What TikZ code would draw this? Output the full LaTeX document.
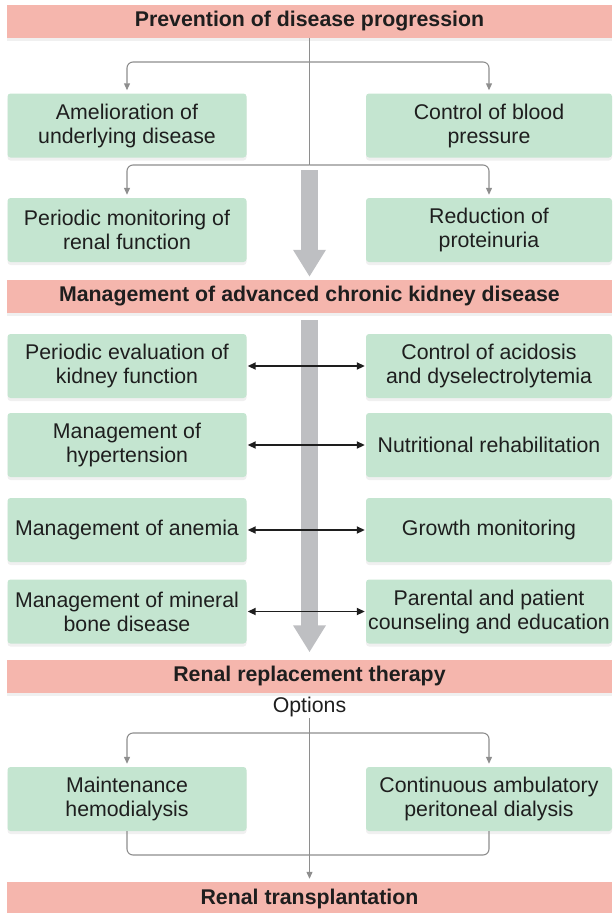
\documentclass[tikz,border=0pt]{standalone}
\usepackage{fontspec}
\setmainfont{Liberation Sans}
\usetikzlibrary{arrows.meta,positioning,shadows}
\definecolor{barpink}{HTML}{F5B6AD}
\definecolor{boxgreen}{HTML}{C4E5D0}
\definecolor{flowgrey}{HTML}{BEBFC2}
\definecolor{linegrey}{HTML}{8E8E8E}
\definecolor{ink}{HTML}{1E1E1E}

\begin{document}
\begin{tikzpicture}[x=1pt,y=-1pt,
    stage/.style={fill=barpink,minimum width=605pt,minimum height=33pt,inner sep=0pt,
      text=ink,font=\fontsize{21.3}{24}\selectfont\bfseries,
      drop shadow={opacity=0.12,shadow xshift=0pt,shadow yshift=-3pt}},
    item/.style={fill=boxgreen,rounded corners=3pt,minimum height=64pt,inner sep=0pt,
      align=center,text=ink,font=\fontsize{21.3}{24}\selectfont,
      drop shadow={opacity=0.12,shadow xshift=0pt,shadow yshift=-3pt}},
    lft/.style={item,minimum width=239pt},
    rgt/.style={item,minimum width=246pt},
    trunk/.style={draw=linegrey,line width=1.1pt,rounded corners=6pt},
    branch/.style={trunk,-{Triangle[length=7pt,width=6pt]},shorten >=3pt},
    both/.style={draw=ink,line width=1.9pt,{Triangle[length=8pt,width=7pt]}-{Triangle[length=8pt,width=7pt]},shorten <=1pt,shorten >=1pt},
    flow/.style={draw=flowgrey,line width=17pt,-{Triangle[length=27pt,width=31pt]}}]
  \useasboundingbox (0,0) rectangle (615,913);

  % stages
  \node[stage] (prev) at (309.5,21) {Prevention of disease progression};
  \node[stage] (ckd) at (309.5,296.5) {Management of advanced chronic kidney disease};
  \node[stage] (rrt) at (309.5,676) {Renal replacement therapy};
  \node[stage] (trans) at (309.5,898.5) {Renal transplantation};

  % prevention
  \node[lft] (amel) at (127,125.5) {Amelioration of\\underlying disease};
  \node[rgt] (bp) at (489,125.5) {Control of blood\\pressure};
  \node[lft] (mon) at (127,230) {Periodic monitoring of\\renal function};
  \node[rgt] (prot) at (489,230) {Reduction of\\proteinuria};

  % advanced CKD
  \foreach \y/\a/\b/\ltext/\rtext in {
      366/eval/acid/{Periodic evaluation of\\kidney function}/{Control of acidosis\\and dyselectrolytemia},
      445/htn/nutr/{Management of\\hypertension}/{Nutritional rehabilitation},
      530/anem/grow/{Management of anemia}/{Growth monitoring},
      611.5/bone/edu/{Management of mineral\\bone disease}/{Parental and patient\\counseling and education}}{
    \node[lft] (\a) at (127,\y) {\ltext};
    \node[rgt] (\b) at (489,\y) {\rtext};
  }

  % replacement options
  \node[inner sep=1pt,text=ink,font=\fontsize{21.3}{24}\selectfont] (opt) at (309.5,707) {Options};
  \node[lft] (hemo) at (127,799) {Maintenance\\hemodialysis};
  \node[rgt] (capd) at (489,799) {Continuous ambulatory\\peritoneal dialysis};

  \coordinate (j1) at (309.5,62);
  \coordinate (j2) at (309.5,165);
  \coordinate (j3) at (309.5,733);
  \coordinate (j4) at (309.5,855);
  \coordinate (f1) at (309.5,170);

  % connectors
  \draw[trunk] (prev.south) -- (j2);
  \foreach \n in {amel,bp} \draw[branch] (j1) -| (\n.north);
  \foreach \n in {mon,prot} \draw[branch] (j2) -| (\n.north);
  \draw[flow] (f1) -- ([yshift=3pt]ckd.north);
  \draw[flow] ([yshift=-7pt]ckd.south) -- ([yshift=7pt]rrt.north);
  \foreach \a/\b in {eval/acid,htn/nutr,anem/grow,bone/edu}
    \draw[both] (\a) -- (\b);
  \draw[branch] (opt.south) -- (trans.north);
  \foreach \n in {hemo,capd} \draw[branch] (j3) -| (\n.north);
  \draw[trunk] (hemo.south) |- (j4) -| (capd.south);
\end{tikzpicture}
\end{document}
